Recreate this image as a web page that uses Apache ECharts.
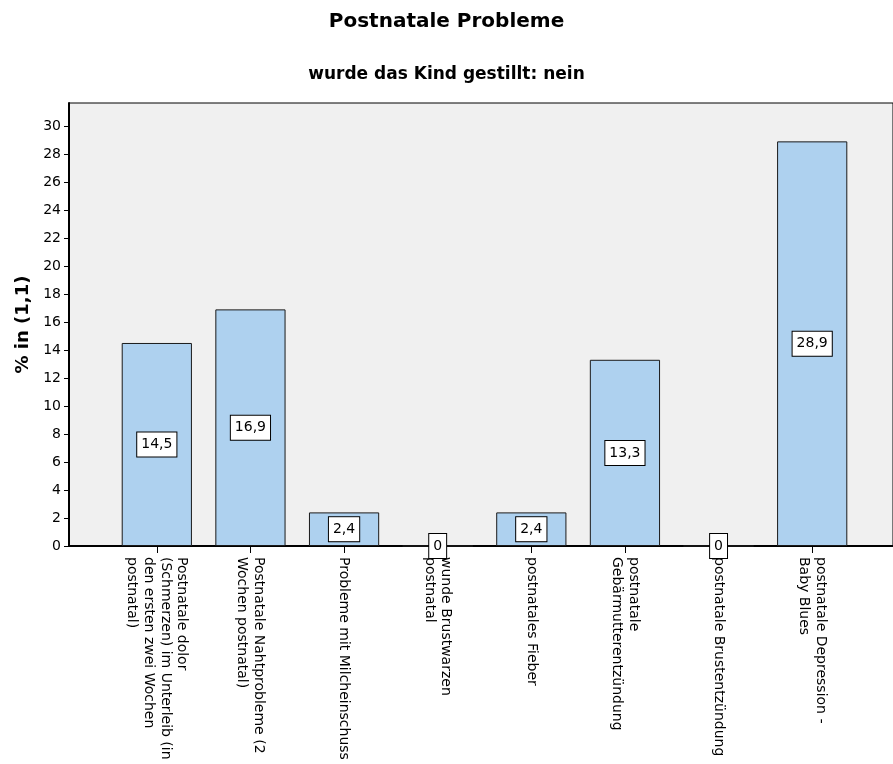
<!DOCTYPE html>
<html>
<head>
<meta charset="utf-8">
<script src="https://cdn.jsdelivr.net/npm/echarts@6/dist/echarts.min.js"></script>
<style>
  html, body { margin: 0; padding: 0; background: #fff; }
  #chart { width: 893px; height: 764px; }
</style>
</head>
<body>
<div id="chart"></div>
<script>
// Category labels (line breaks as printed under each bar)
const categories = [
  'Postnatale dolor\n(Schmerzen) im Unterleib (in\nden ersten zwei Wochen\npostnatal)',
  'Postnatale Nahtprobleme (2\nWochen postnatal)',
  'Probleme mit Milcheinschuss',
  'wunde Brustwarzen\npostnatal',
  'postnatales Fieber',
  'postnatale\nGebärmutterentzündung',
  'postnatale Brustentzündung',
  'postnatale Depression -\nBaby Blues'
];
// Percentages per problem
const percentValues = [14.5, 16.9, 2.4, 0, 2.4, 13.3, 0, 28.9];
// Value-axis range and step
const yMin = 0;
const yMax = 31.64;
const yStep = 2;

const FONT = 'DejaVu Sans, Liberation Sans, Arial, sans-serif';

const chart = echarts.init(document.getElementById('chart'), null, { renderer: 'canvas' });

const fmt = v => String(v).replace('.', ',');

chart.setOption({
  backgroundColor: '#ffffff',
  animation: false,
  title: [
    {
      text: 'Postnatale Probleme',
      left: 'center',
      top: 7,
      textStyle: { fontFamily: FONT, fontSize: 20, fontWeight: 'bold', color: '#000' }
    },
    {
      text: 'wurde das Kind gestillt: nein',
      left: 'center',
      top: 61,
      textStyle: { fontFamily: FONT, fontSize: 17, fontWeight: 'bold', color: '#000' }
    }
  ],
  grid: [
    // outer plot frame with grey fill
    { left: 69, right: -3, top: 103, bottom: 218, show: true,
      backgroundColor: '#f0f0f0', borderColor: '#000', borderWidth: 1 },
    // inner area holding the category bands
    { left: 110, right: 34, top: 103, bottom: 218 }
  ],
  xAxis: [
    { type: 'value', gridIndex: 0, min: 0, max: 1,
      axisLine: { show: true, onZero: false, lineStyle: { color: '#000', width: 2 } },
      axisTick: { show: false }, axisLabel: { show: false }, splitLine: { show: false } },
    { type: 'category', gridIndex: 1, data: categories, boundaryGap: true,
      axisLine: { show: false },
      axisTick: { show: true, alignWithLabel: true, length: 7, lineStyle: { color: '#000', width: 1 } },
      axisLabel: { rotate: -90, margin: 11, interval: 0, fontFamily: FONT, fontSize: 14,
        lineHeight: 16.7, color: '#000' } }
  ],
  yAxis: [
    { type: 'value', gridIndex: 0, min: yMin, max: yMax, interval: yStep,
      name: '% in (1,1)', nameLocation: 'middle', nameGap: 36, nameRotate: 90,
      nameTextStyle: { fontFamily: FONT, fontSize: 18, fontWeight: 'bold', color: '#000' },
      axisLine: { show: true, lineStyle: { color: '#000', width: 2 } },
      axisTick: { show: true, inside: false, length: 5, lineStyle: { color: '#000' } },
      axisLabel: { showMaxLabel: false, margin: 8, fontFamily: FONT, fontSize: 14, color: '#000' },
      splitLine: { show: false } },
    { type: 'value', gridIndex: 1, min: yMin, max: yMax, interval: yStep, show: false,
      splitLine: { show: false } }
  ],
  series: [
    {
      type: 'bar',
      xAxisIndex: 1,
      yAxisIndex: 1,
      data: percentValues,
      barWidth: '75%',
      itemStyle: { color: '#aed1ef', borderColor: '#1a1a1a', borderWidth: 1 },
      label: {
        show: true,
        position: 'inside',
        formatter: p => fmt(p.value),
        fontFamily: FONT, fontSize: 14, color: '#000',
        backgroundColor: '#fff', borderColor: '#000', borderWidth: 1,
        padding: [5, 4, 5, 4]
      }
    }
  ]
});
</script>
</body>
</html>
